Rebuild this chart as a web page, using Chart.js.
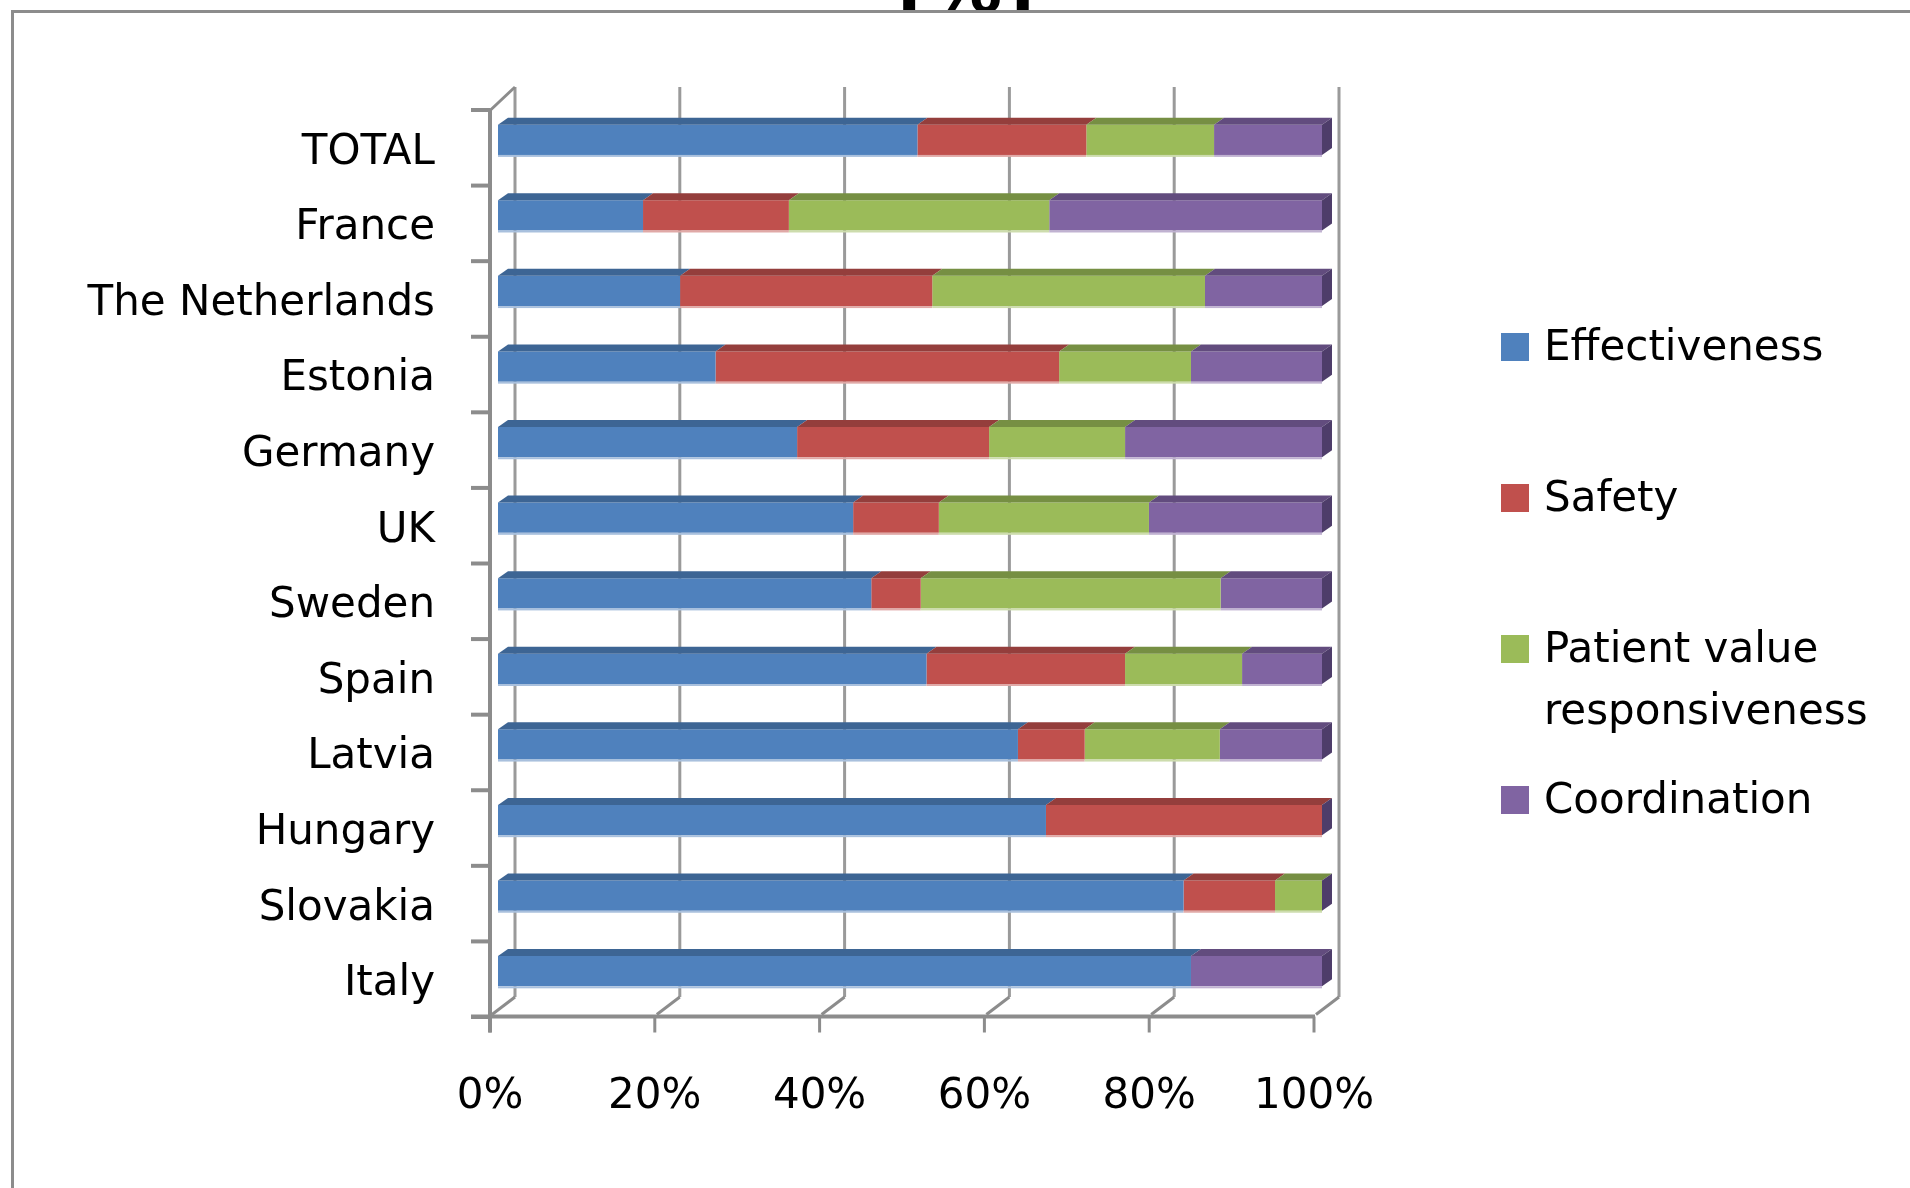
<!DOCTYPE html>
<html>
<head>
<meta charset="utf-8">
<title>Quality dimensions by country</title>
<script src="https://cdn.jsdelivr.net/npm/chart.js@4.4.1/dist/chart.umd.min.js"></script>
<style>
  html, body { margin: 0; padding: 0; background: #fff; }
  #wrap { width: 1910px; height: 1188px; position: relative; overflow: hidden; }
  canvas { display: block; }
</style>
</head>
<body>
<div id="wrap"><canvas id="chart" width="1910" height="1188"></canvas></div>
<script>
// Categories (top to bottom) and the share of each quality dimension, in %
const countries = ['TOTAL', 'France', 'The Netherlands', 'Estonia', 'Germany', 'UK',
                   'Sweden', 'Spain', 'Latvia', 'Hungary', 'Slovakia', 'Italy'];
const effectiveness = [50.9, 17.6, 22.1, 26.4, 36.3, 43.1, 45.3, 52.0, 63.1, 66.5, 83.2, 84.1];
const safety        = [20.5, 17.7, 30.6, 41.7, 23.3, 10.4,  6.0, 24.1,  8.1, 33.5, 11.1,  0.0];
const patientValue  = [15.5, 31.6, 33.1, 16.0, 16.5, 25.5, 36.4, 14.2, 16.4,  0.0,  5.7,  0.0];
const coordination  = [13.1, 33.1, 14.2, 15.9, 23.9, 21.0, 12.3,  9.7, 12.4,  0.0,  0.0, 15.9];
const percentTicks  = [0, 20, 40, 60, 80, 100];
const seriesNames   = ['Effectiveness', 'Safety', 'Patient value responsiveness', 'Coordination'];
const chartTitle    = '[%]';

const FONT = '"DejaVu Sans", sans-serif';
const GRID = '#8c8c8c';

// fill, top face, light lower edge
const palette = [
  { face: '#4f81bd', top: '#3d6594', edge: '#a9c0dd' },
  { face: '#c0504d', top: '#943e3c', edge: '#e0a9a7' },
  { face: '#9bbb59', top: '#768f43', edge: '#cddcad' },
  { face: '#8064a2', top: '#624c7e', edge: '#c0b2d1' }
];
const sideColor = '#4e3d6a';

// depth of the bars and of the surrounding box, in pixels
const BAR_DX = 10, BAR_DY = 7;
const FRONT_DX = -8, BACK_DX = 17;

function line(ctx, x1, y1, x2, y2, w, c) {
  ctx.beginPath();
  ctx.moveTo(x1, y1);
  ctx.lineTo(x2, y2);
  ctx.lineWidth = w;
  ctx.strokeStyle = c;
  ctx.stroke();
}

const frame3d = {
  id: 'frame3d',
  beforeDraw(chart) {
    const ctx = chart.ctx;
    ctx.save();
    ctx.fillStyle = '#fff';
    ctx.fillRect(0, 0, chart.width, chart.height);
    // title sits above the frame; only its lower part shows
    ctx.fillStyle = '#000';
    ctx.font = 'bold 72px ' + FONT;
    ctx.textAlign = 'center';
    ctx.textBaseline = 'alphabetic';
    ctx.fillText(chartTitle, 966, 12);
    ctx.fillStyle = '#fff';
    ctx.fillRect(12, 12, chart.width, chart.height);
    // outer frame
    line(ctx, 11, 11.5, chart.width, 11.5, 3, GRID);
    line(ctx, 12.5, 10, 12.5, chart.height, 3, GRID);
    ctx.restore();
  },
  beforeDatasetsDraw(chart) {
    const ctx = chart.ctx;
    const xs = chart.scales.x, ys = chart.scales.y, a = chart.chartArea;
    const backTop = a.top - 15, backBottom = a.bottom - 12;
    const frontTop = a.top + 8.5, frontBottom = a.bottom + 7.5;
    ctx.save();
    ctx.lineCap = 'butt';
    // back wall gridlines and floor edges
    percentTicks.forEach(v => {
      const px = xs.getPixelForValue(v);
      const xb = px + BACK_DX, xf = px + FRONT_DX;
      line(ctx, xb, backTop, xb, backBottom, 3, '#9a9a9a');
      line(ctx, xb, backBottom, xf + 2, frontBottom - 2, 3, GRID);
    });
    const x0f = xs.getPixelForValue(0) + FRONT_DX;
    const x0b = xs.getPixelForValue(0) + BACK_DX;
    const x100f = xs.getPixelForValue(100) + FRONT_DX;
    // side wall top edge
    line(ctx, x0f, frontTop, x0b, backTop, 3, GRID);
    // vertical (category) axis
    line(ctx, x0f, frontTop - 2, x0f, frontBottom + 16, 4, GRID);
    for (let i = 0; i <= countries.length; i++) {
      const y = ys.getPixelForValue(i - 0.5) + 8;
      line(ctx, x0f - 19, y, x0f, y, 4, GRID);
    }
    // horizontal (value) axis
    line(ctx, x0f - 19, frontBottom, x100f + 1, frontBottom, 4, GRID);
    percentTicks.forEach(v => {
      const xf = xs.getPixelForValue(v) + FRONT_DX;
      line(ctx, xf, frontBottom, xf, frontBottom + 16, 3, GRID);
    });
    // labels
    ctx.fillStyle = '#000';
    ctx.font = '42px ' + FONT;
    ctx.textBaseline = 'middle';
    ctx.textAlign = 'center';
    percentTicks.forEach(v => {
      ctx.fillText(v + '%', xs.getPixelForValue(v) + FRONT_DX, frontBottom + 81);
    });
    ctx.textAlign = 'right';
    countries.forEach((c, i) => {
      ctx.fillText(c, 435, ys.getPixelForValue(i) + 13);
    });
    ctx.restore();
  },
  afterDatasetsDraw(chart) {
    const ctx = chart.ctx;
    const xs = chart.scales.x;
    ctx.save();
    chart.data.datasets.forEach((ds, di) => {
      const meta = chart.getDatasetMeta(di);
      meta.data.forEach(bar => {
        const p = bar.getProps(['x', 'y', 'base', 'height'], true);
        const left = Math.min(p.x, p.base), right = Math.max(p.x, p.base);
        if (right - left < 0.5) return;
        const top = p.y - p.height / 2, bottom = p.y + p.height / 2;
        // top face
        ctx.beginPath();
        ctx.moveTo(left, top);
        ctx.lineTo(left + BAR_DX, top - BAR_DY);
        ctx.lineTo(right + BAR_DX, top - BAR_DY);
        ctx.lineTo(right, top);
        ctx.closePath();
        ctx.fillStyle = palette[di].top;
        ctx.fill();
        // soft lower edge
        ctx.fillStyle = palette[di].edge;
        ctx.fillRect(left, bottom, right - left, 2);
      });
    });
    // right end face of every stack
    const meta0 = chart.getDatasetMeta(0);
    const xr = xs.getPixelForValue(100);
    meta0.data.forEach(bar => {
      const p = bar.getProps(['y', 'height'], true);
      const top = p.y - p.height / 2, bottom = p.y + p.height / 2;
      ctx.beginPath();
      ctx.moveTo(xr, top);
      ctx.lineTo(xr + BAR_DX, top - BAR_DY);
      ctx.lineTo(xr + BAR_DX, bottom - BAR_DY);
      ctx.lineTo(xr, bottom);
      ctx.closePath();
      ctx.fillStyle = sideColor;
      ctx.fill();
    });
    ctx.restore();
  },
  afterDraw(chart) {
    // legend, built from the datasets
    const ctx = chart.ctx;
    ctx.save();
    ctx.font = '42px ' + FONT;
    ctx.textAlign = 'left';
    ctx.textBaseline = 'middle';
    const boxX = 1501, textX = 1544, firstY = 347, step = 151, lineH = 62, maxW = 350;
    chart.data.datasets.forEach((ds, i) => {
      const cy = firstY + i * step;
      ctx.fillStyle = ds.backgroundColor;
      ctx.fillRect(boxX, cy - 14, 28, 28);
      const words = ds.label.split(' ');
      const lines = [];
      let cur = '';
      words.forEach(w => {
        const test = cur ? cur + ' ' + w : w;
        if (cur && ctx.measureText(test).width > maxW) { lines.push(cur); cur = w; }
        else cur = test;
      });
      lines.push(cur);
      ctx.fillStyle = '#000';
      lines.forEach((t, k) => ctx.fillText(t, textX, cy + 2 + k * lineH));
    });
    ctx.restore();
  }
};

const seriesValues = [effectiveness, safety, patientValue, coordination];

new Chart(document.getElementById('chart'), {
  type: 'bar',
  data: {
    labels: countries,
    datasets: seriesValues.map((vals, i) => ({
      label: seriesNames[i],
      data: vals,
      backgroundColor: palette[i].face,
      borderWidth: 0,
      categoryPercentage: 1,
      barPercentage: 0.4
    }))
  },
  options: {
    indexAxis: 'y',
    responsive: false,
    animation: false,
    devicePixelRatio: 1,
    layout: { padding: { left: 498, right: 588, top: 102, bottom: 179 } },
    plugins: {
      legend: { display: false },
      tooltip: { enabled: false },
      title: { display: false }
    },
    scales: {
      x: { display: false, stacked: true, min: 0, max: 100 },
      y: { display: false, stacked: true }
    }
  },
  plugins: [frame3d]
});
</script>
</body>
</html>
